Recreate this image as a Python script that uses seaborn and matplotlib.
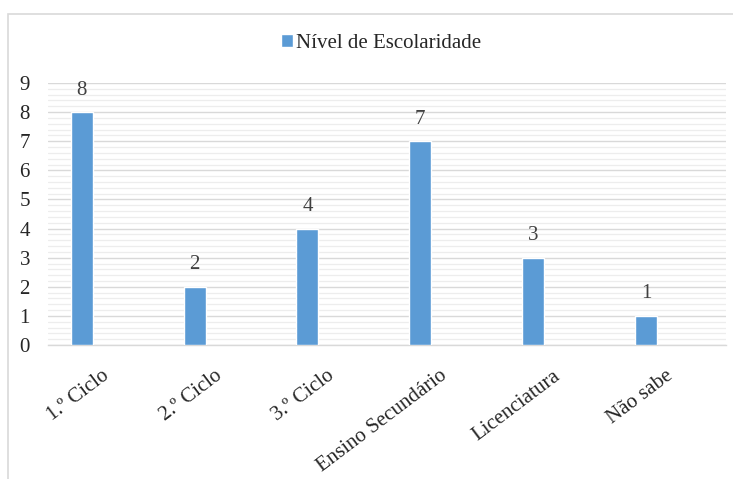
import matplotlib
matplotlib.use("Agg")
import matplotlib.pyplot as plt
from matplotlib.patches import Rectangle
from matplotlib.ticker import MultipleLocator
from matplotlib.transforms import ScaledTranslation
import seaborn as sns
import pandas as pd

categories = ["1.º Ciclo", "2.º Ciclo", "3.º Ciclo", "Ensino Secundário", "Licenciatura", "Não sabe"]
values = [8, 2, 4, 7, 3, 1]
series_name = "Nível de Escolaridade"

df = pd.DataFrame({"categoria": categories, "valor": values})

sns.set_theme(style="white")
plt.rcParams["font.family"] = ["Liberation Serif", "DejaVu Serif"]

BAR = "#5B9BD5"
TXT = "#262626"
fig = plt.figure(figsize=(7.33, 4.79), dpi=100)
ax = fig.add_axes([0.0655, 0.2797, 0.9250, 0.547])

sns.barplot(data=df, x="categoria", y="valor", color=BAR, width=0.195,
            saturation=1, ax=ax, zorder=3, label=series_name)

ax.set_ylim(0, 9)
ax.set_xlim(-0.30, 5.71)
ax.yaxis.set_major_locator(MultipleLocator(1))
ax.yaxis.set_minor_locator(MultipleLocator(0.2))
ax.grid(which="major", axis="y", color="#D9D9D9", linewidth=1.0, zorder=0)
ax.grid(which="minor", axis="y", color="#EDEDED", linewidth=0.9, zorder=0)
ax.set_axisbelow(True)
for s in ["top", "right", "left"]:
    ax.spines[s].set_visible(False)
ax.spines["bottom"].set_color("#D9D9D9")
ax.spines["bottom"].set_linewidth(1.0)
ax.set_xlabel("")
ax.set_ylabel("")
ax.tick_params(axis="y", which="both", length=0, pad=13, labelsize=15, labelcolor=TXT)
ax.tick_params(axis="x", length=0, pad=21, labelsize=15, labelcolor=TXT)
ax.set_xticks(range(len(categories)))
ax.set_xticklabels(categories, rotation=37, ha="right", va="center", rotation_mode="anchor")
# shift the slanted category labels a little to the right of their ticks
shift = ScaledTranslation(0.25, 0, fig.dpi_scale_trans)
for lab in ax.get_xticklabels():
    lab.set_transform(lab.get_transform() + shift)

for i, v in enumerate(values):
    ax.annotate(str(v), (i, v), xytext=(0, 9), textcoords="offset points",
                ha="center", va="bottom", fontsize=15, color="#404040")

leg = ax.legend(loc="center", bbox_to_anchor=(0.52, 0.91), bbox_transform=fig.transFigure,
                frameon=False, fontsize=15, handlelength=0.55, handleheight=0.55,
                handletextpad=0.15)
for t in leg.get_texts():
    t.set_color(TXT)

fig.patches.append(Rectangle((0.0115, -0.05), 1.1, 1.021, transform=fig.transFigure,
                             fill=False, edgecolor="#D9D9D9", linewidth=1.2))

fig.savefig("out.png", dpi=100, facecolor="white")
